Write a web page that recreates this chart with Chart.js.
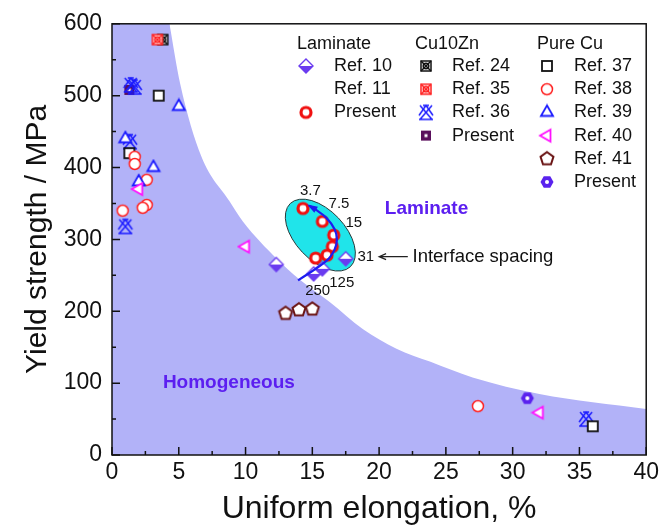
<!DOCTYPE html>
<html>
<head>
<meta charset="utf-8">
<script src="https://cdn.jsdelivr.net/npm/chart.js@4/dist/chart.umd.min.js"></script>
<style>
  html, body { margin: 0; padding: 0; background: #fff; }
  #wrap { width: 663px; height: 528px; }
</style>
</head>
<body>
<div id="wrap"><canvas id="c" width="663" height="528"></canvas></div>
<script>
// values (x = uniform elongation %, y = yield strength MPa)
var lamRef10X = [12.3, 15.1, 15.75, 17.5];
var lamRef10Y = [265, 252, 259, 273];
var lamPresentX = [14.3, 15.75, 16.6, 16.5, 16.1, 15.25];
var lamPresentY = [343, 325, 306, 290, 278, 274];
var spacingLabels = ['3.7', '7.5', '15', '31', '125', '250'];
var spacingLabelX = [14.85, 17.0, 18.1, 19.0, 17.2, 15.4];
var spacingLabelY = [367, 349, 323, 276, 240, 229];

var zn24X = [3.8];  var zn24Y = [578];
var zn35X = [3.4];  var zn35Y = [578];
var zn36X = [1.4, 1.7, 1.35, 1.0, 35.5];
var zn36Y = [515, 512, 436, 318, 50];
var znPresentX = [1.3]; var znPresentY = [508];

var cu37X = [3.5, 1.3, 36.0];  var cu37Y = [500, 420, 40];
var cu38X = [1.7, 1.7, 2.6, 2.6, 2.3, 0.8, 27.4];
var cu38Y = [415, 405, 383, 348, 344, 340, 68];
var cu39X = [5.0, 1.0, 3.1, 2.0];  var cu39Y = [485, 440, 400, 380];
var cu40X = [2.0, 10.0, 32.0];  var cu40Y = [370, 290, 59];
var cu41X = [13.0, 14.0, 15.0];  var cu41Y = [197, 202, 203];
var cuPresentX = [31.1];  var cuPresentY = [79];

// boundary between homogeneous (shaded) and laminate region
var edgeX = [4.3, 5.1, 6.7, 8.8, 9.8, 12.4, 14.0, 16.3, 18.8, 21.3, 23.8, 27.0, 32.0, 40.0];
var edgeY = [600, 517, 415, 353, 325, 272, 245, 213, 175, 148, 130, 108, 85, 64];

// blue arrow through the laminate points (250 -> 3.7)
var trendX = [13.93, 16.05, 16.67, 16.84, 16.67, 16.05, 15.25, 14.75];
var trendY = [243, 270, 286, 300, 314, 330, 341.5, 347];

var FONT = "'Liberation Sans', Arial, sans-serif";

function pts(xs, ys) {
  return xs.map(function (x, i) { return { x: x, y: ys[i] }; });
}

function marker(size, fn) {
  var c = document.createElement('canvas');
  c.width = size; c.height = size;
  var g = c.getContext('2d');
  g.translate(size / 2, size / 2);
  fn(g);
  return c;
}

function poly(g, n, r, rot) {
  g.beginPath();
  for (var i = 0; i < n; i++) {
    var a = rot + i * 2 * Math.PI / n;
    var px = r * Math.cos(a), py = r * Math.sin(a);
    if (i === 0) g.moveTo(px, py); else g.lineTo(px, py);
  }
  g.closePath();
}

function crossSquare(color) {
  return marker(16, function (g) {
    g.fillStyle = '#fff'; g.fillRect(-5, -5, 10, 10);
    g.strokeStyle = color; g.lineWidth = 1.5;
    g.strokeRect(-5, -5, 10, 10);
    g.beginPath(); g.moveTo(-5, -5); g.lineTo(5, 5); g.moveTo(5, -5); g.lineTo(-5, 5); g.stroke();
    g.beginPath(); g.arc(0, 0, 2.8, 0, Math.PI * 2); g.stroke();
  });
}

var mk = {
  ref10: marker(18, function (g) {
    g.beginPath(); g.moveTo(0, -7); g.lineTo(7, 0); g.lineTo(-7, 0); g.closePath();
    g.fillStyle = '#fff'; g.fill();
    g.beginPath(); g.moveTo(-7, 0); g.lineTo(7, 0); g.lineTo(0, 7); g.closePath();
    g.fillStyle = '#6b3cf0'; g.fill();
    g.beginPath(); g.moveTo(0, -7); g.lineTo(7, 0); g.lineTo(0, 7); g.lineTo(-7, 0); g.closePath();
    g.strokeStyle = '#6b3cf0'; g.lineWidth = 1.4; g.stroke();
  }),
  lamPresent: marker(18, function (g) {
    g.beginPath(); g.arc(0, 0, 5, 0, Math.PI * 2);
    g.fillStyle = '#fff'; g.fill();
    g.strokeStyle = '#f01010'; g.lineWidth = 3.2; g.stroke();
  }),
  zn24: crossSquare('#111'),
  zn35: crossSquare('#ff2020'),
  zn36: marker(18, function (g) {
    g.strokeStyle = '#1a1aff'; g.lineWidth = 1.5;
    g.beginPath();
    g.moveTo(-6, -7); g.lineTo(6, 7); g.moveTo(6, -7); g.lineTo(-6, 7);
    g.moveTo(-3, -7); g.lineTo(3, -7);
    g.moveTo(-7, 7); g.lineTo(7, 7);
    g.moveTo(-7, 3); g.lineTo(0, -7); g.lineTo(7, 3);
    g.stroke();
  }),
  znPresent: marker(14, function (g) {
    g.fillStyle = '#5a0f5c'; g.fillRect(-5, -5, 10, 10);
    g.fillStyle = '#fff'; g.fillRect(-1.5, -1.5, 3, 3);
  }),
  cu37: marker(16, function (g) {
    g.fillStyle = '#fff'; g.fillRect(-5, -5, 10, 10);
    g.strokeStyle = '#111'; g.lineWidth = 1.8; g.strokeRect(-5, -5, 10, 10);
  }),
  cu38: marker(16, function (g) {
    g.beginPath(); g.arc(0, 0, 5.5, 0, Math.PI * 2);
    g.fillStyle = '#fff'; g.fill();
    g.strokeStyle = '#ff2020'; g.lineWidth = 1.5; g.stroke();
  }),
  cu39: marker(18, function (g) {
    poly(g, 3, 7, -Math.PI / 2);
    g.fillStyle = '#fff'; g.fill();
    g.strokeStyle = '#1a1aff'; g.lineWidth = 1.8; g.stroke();
  }),
  cu40: marker(18, function (g) {
    poly(g, 3, 7, Math.PI);
    g.fillStyle = '#fff'; g.fill();
    g.strokeStyle = '#ff10ff'; g.lineWidth = 1.8; g.stroke();
  }),
  cu41: marker(18, function (g) {
    poly(g, 5, 6.8, -Math.PI / 2);
    g.fillStyle = '#fff'; g.fill();
    g.strokeStyle = '#6a1414'; g.lineWidth = 2; g.stroke();
  }),
  cuPresent: marker(18, function (g) {
    poly(g, 6, 6.5, 0);
    g.fillStyle = '#5a22ee'; g.fill();
    g.beginPath(); g.arc(0, 0, 2, 0, Math.PI * 2);
    g.fillStyle = '#fff'; g.fill();
  })
};

function series(label, xs, ys, style) {
  return { label: label, data: pts(xs, ys), pointStyle: style, pointRadius: 7, showLine: false, order: 0 };
}

var datasets = [
  { label: 'laminate region', data: pts(edgeX, edgeY), showLine: true, fill: 'end',
    backgroundColor: '#ffffff', borderWidth: 0, pointRadius: 0, cubicInterpolationMode: 'monotone', order: 20 },
  { label: 'trend', data: pts(trendX, trendY), showLine: true, fill: false,
    borderColor: '#1c1cf0', borderWidth: 2.2, pointRadius: 0, tension: 0.4, order: -1 },
  series('Ref. 41', cu41X, cu41Y, mk.cu41),
  series('Ref. 40', cu40X, cu40Y, mk.cu40),
  series('Ref. 39', cu39X, cu39Y, mk.cu39),
  series('Ref. 38', cu38X, cu38Y, mk.cu38),
  series('Ref. 37', cu37X, cu37Y, mk.cu37),
  series('Pure Cu Present', cuPresentX, cuPresentY, mk.cuPresent),
  series('Ref. 36', zn36X, zn36Y, mk.zn36),
  series('Cu10Zn Present', znPresentX, znPresentY, mk.znPresent),
  series('Ref. 35', zn35X, zn35Y, mk.zn35),
  series('Ref. 24', zn24X, zn24Y, mk.zn24),
  series('Ref. 10', lamRef10X, lamRef10Y, mk.ref10),
  series('Laminate Present', lamPresentX, lamPresentY, mk.lamPresent)
];

var legendCols = [
  { title: 'Laminate', tx: 297, mx: 306, lx: 334,
    rows: [['Ref. 10', mk.ref10], ['Ref. 11', null], ['Present', mk.lamPresent]] },
  { title: 'Cu10Zn', tx: 415, mx: 426, lx: 452,
    rows: [['Ref. 24', mk.zn24], ['Ref. 35', mk.zn35], ['Ref. 36', mk.zn36], ['Present', mk.znPresent]] },
  { title: 'Pure Cu', tx: 537, mx: 547, lx: 574,
    rows: [['Ref. 37', mk.cu37], ['Ref. 38', mk.cu38], ['Ref. 39', mk.cu39], ['Ref. 40', mk.cu40], ['Ref. 41', mk.cu41], ['Present', mk.cuPresent]] }
];

var deco = {
  id: 'deco',
  beforeDatasetsDraw: function (chart) {
    var a = chart.chartArea, ctx = chart.ctx;
    ctx.save();
    ctx.fillStyle = '#b2b2f8';
    ctx.fillRect(a.left, a.top, a.right - a.left, a.bottom - a.top);
    ctx.restore();
  },
  afterDatasetDraw: function (chart, args) {
    if (args.index !== 0) return;
    var xs = chart.scales.x, ys = chart.scales.y, ctx = chart.ctx;
    // ellipse around the present laminate points
    var x1 = xs.getPixelForValue(13.35), y1 = ys.getPixelForValue(350);
    var x2 = xs.getPixelForValue(17.85), y2 = ys.getPixelForValue(262);
    var a = Math.hypot(x2 - x1, y2 - y1) / 2;
    ctx.save();
    ctx.beginPath();
    ctx.ellipse((x1 + x2) / 2, (y1 + y2) / 2, a, a * 0.57, Math.atan2(y2 - y1, x2 - x1), 0, Math.PI * 2);
    ctx.fillStyle = '#20e4ea';
    ctx.fill();
    ctx.strokeStyle = '#2a3a3a';
    ctx.lineWidth = 1;
    ctx.stroke();
    ctx.restore();
  },
  afterDatasetsDraw: function (chart) {
    var xs = chart.scales.x, ys = chart.scales.y, ctx = chart.ctx, a = chart.chartArea;
    ctx.save();
    // arrowhead on the blue trend line
    var n = trendX.length;
    var ex = xs.getPixelForValue(trendX[n - 1]), ey = ys.getPixelForValue(trendY[n - 1]);
    var px = xs.getPixelForValue(trendX[n - 2]), py = ys.getPixelForValue(trendY[n - 2]);
    var ang = Math.atan2(ey - py, ex - px);
    ctx.fillStyle = '#1c1cf0';
    ctx.beginPath();
    ctx.moveTo(ex + 2 * Math.cos(ang), ey + 2 * Math.sin(ang));
    ctx.lineTo(ex - 9 * Math.cos(ang - 0.4), ey - 9 * Math.sin(ang - 0.4));
    ctx.lineTo(ex - 9 * Math.cos(ang + 0.4), ey - 9 * Math.sin(ang + 0.4));
    ctx.closePath();
    ctx.fill();

    // spacing numbers
    ctx.fillStyle = '#111';
    ctx.font = '15px ' + FONT;
    ctx.textAlign = 'center';
    ctx.textBaseline = 'middle';
    spacingLabels.forEach(function (t, i) {
      ctx.fillText(t, xs.getPixelForValue(spacingLabelX[i]), ys.getPixelForValue(spacingLabelY[i]));
    });

    // interface spacing arrow
    var ay = ys.getPixelForValue(276);
    var ax1 = xs.getPixelForValue(20.0), ax2 = xs.getPixelForValue(22.15);
    ctx.strokeStyle = '#222';
    ctx.lineWidth = 1.2;
    ctx.beginPath();
    ctx.moveTo(ax2, ay); ctx.lineTo(ax1, ay);
    ctx.moveTo(ax1 + 7, ay - 3); ctx.lineTo(ax1, ay); ctx.lineTo(ax1 + 7, ay + 3);
    ctx.stroke();
    ctx.textAlign = 'left';
    ctx.font = '18.5px ' + FONT;
    ctx.fillText('Interface spacing', xs.getPixelForValue(22.5), ay);

    // region names
    ctx.fillStyle = '#5c1ff0';
    ctx.font = 'bold 19px ' + FONT;
    ctx.textAlign = 'center';
    ctx.fillText('Laminate', xs.getPixelForValue(23.55), ys.getPixelForValue(342));
    ctx.fillText('Homogeneous', xs.getPixelForValue(8.75), ys.getPixelForValue(101));

    // inward ticks
    ctx.strokeStyle = '#111';
    ctx.lineWidth = 1.5;
    ctx.beginPath();
    for (var v = 0; v <= 40; v += 2.5) {
      var tx = xs.getPixelForValue(v), len = v % 5 === 0 ? 8 : 4;
      ctx.moveTo(tx, a.bottom); ctx.lineTo(tx, a.bottom - len);
    }
    for (var w = 0; w <= 600; w += 50) {
      var ty = ys.getPixelForValue(w), l2 = w % 100 === 0 ? 8 : 4;
      ctx.moveTo(a.left, ty); ctx.lineTo(a.left + l2, ty);
    }
    ctx.stroke();
    ctx.strokeRect(a.left, a.top, a.right - a.left, a.bottom - a.top);
    ctx.restore();
  },
  afterDraw: function (chart) {
    var ctx = chart.ctx;
    ctx.save();
    ctx.fillStyle = '#111';
    ctx.font = '18px ' + FONT;
    ctx.textBaseline = 'middle';
    ctx.textAlign = 'left';
    legendCols.forEach(function (col) {
      ctx.fillText(col.title, col.tx, 44);
      col.rows.forEach(function (r, i) {
        var y = 66 + i * 23.2;
        if (r[1]) ctx.drawImage(r[1], col.mx - r[1].width / 2, y - r[1].height / 2);
        ctx.fillText(r[0], col.lx, y);
      });
    });
    ctx.restore();
  }
};

new Chart(document.getElementById('c'), {
  type: 'scatter',
  data: { datasets: datasets },
  options: {
    responsive: false,
    animation: false,
    layout: { padding: { left: 0, top: 22, right: 16, bottom: 0 } },
    plugins: { legend: { display: false }, tooltip: { enabled: false } },
    scales: {
      x: {
        type: 'linear', min: 0, max: 40,
        grid: { display: false, drawTicks: false },
        border: { display: false },
        ticks: { stepSize: 5, color: '#111', padding: 4, font: { family: FONT, size: 23 } },
        title: { display: true, text: 'Uniform elongation, %', color: '#111',
                 font: { family: FONT, size: 32 }, padding: { top: 2, bottom: 0 } },
        afterFit: function (s) { s.height = 73; }
      },
      y: {
        type: 'linear', min: 0, max: 600,
        grid: { display: false, drawTicks: false },
        border: { display: false },
        ticks: { stepSize: 100, color: '#111', padding: 10, font: { family: FONT, size: 23 } },
        title: { display: true, text: 'Yield strength / MPa', color: '#111',
                 font: { family: FONT, size: 30 }, padding: { top: 20, bottom: 0 } },
        afterFit: function (s) { s.width = 112; }
      }
    }
  },
  plugins: [deco]
});
</script>
</body>
</html>
